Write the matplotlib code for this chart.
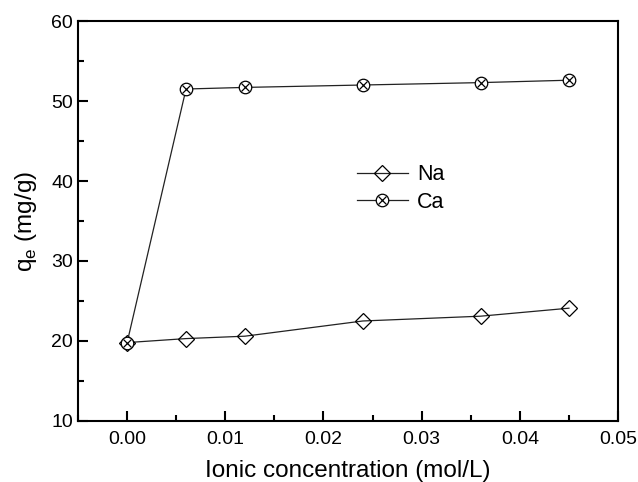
import numpy as np
import matplotlib.pyplot as plt
from matplotlib.ticker import MultipleLocator

plt.rcParams['font.family'] = ['Liberation Sans', 'DejaVu Sans']
plt.rcParams['mathtext.fontset'] = 'custom'
plt.rcParams['mathtext.rm'] = 'Liberation Sans'

# data
conc = [0.0, 0.006, 0.012, 0.024, 0.036, 0.045]
na_qe = [19.8, 20.3, 20.6, 22.5, 23.1, 24.1]
ca_qe = [19.8, 51.5, 51.7, 52.0, 52.3, 52.6]

fig = plt.figure(figsize=(6.38, 4.82), dpi=100)
ax = fig.add_axes([0.1223, 0.1266, 0.8464, 0.8298])

na, = ax.plot(conc, na_qe, '-', color='#222222', lw=0.9, marker='D', ms=8.5,
              mfc='none', mec='black', mew=0.9, label='Na')
ca_o, = ax.plot(conc, ca_qe, '-', color='#222222', lw=0.9, marker='o', ms=9,
                mfc='white', mec='black', mew=0.9)
ca_x, = ax.plot(conc, ca_qe, ls='none', marker='x', ms=6.3, mec='black', mew=0.9)

ax.legend([na, (ca_o, ca_x)], ['Na', 'Ca'], loc='upper left',
          bbox_to_anchor=(0.48, 0.69), frameon=False, fontsize=15.5,
          handlelength=2.4, handletextpad=0.4, labelspacing=0.3)

ax.set_xlim(-0.005, 0.05)
ax.set_ylim(10, 60)
ax.xaxis.set_major_locator(MultipleLocator(0.01))
ax.xaxis.set_minor_locator(MultipleLocator(0.005))
ax.yaxis.set_major_locator(MultipleLocator(10))
ax.yaxis.set_minor_locator(MultipleLocator(5))
ax.xaxis.set_major_formatter(plt.FormatStrFormatter('%.2f'))

ax.tick_params(which='both', direction='in', top=False, right=False,
               labelsize=14, width=1.5)
ax.tick_params(which='major', length=7)
ax.tick_params(which='minor', length=4)
ax.tick_params(axis='x', pad=7)
for s in ax.spines.values():
    s.set_linewidth(1.5)

ax.set_xlabel('Ionic concentration (mol/L)', fontsize=17.5, labelpad=9)
ax.set_ylabel(r'q$_\mathregular{e}$ (mg/g)', fontsize=17.5, labelpad=9)

fig.savefig('out.png', dpi=100)
